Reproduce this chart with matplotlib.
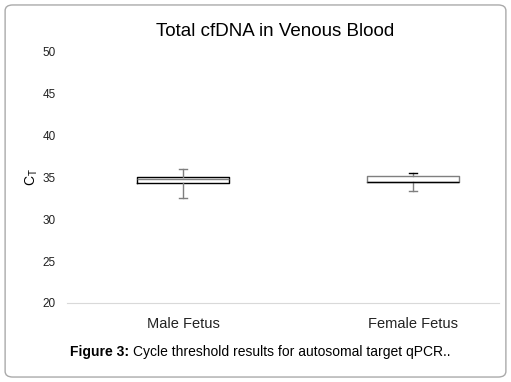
import matplotlib
matplotlib.use('Agg')
import matplotlib.pyplot as plt
from matplotlib.patches import FancyBboxPatch

plt.rcParams['font.family'] = ['Liberation Sans', 'DejaVu Sans']

# values (cycle threshold)
categories = ['Male Fetus', 'Female Fetus']
whis_lo = [32.6, 33.4]
q1 = [34.3, 34.45]
medians = [34.8, 34.45]
q3 = [35.0, 35.2]
whis_hi = [36.0, 35.5]
y_ticks = [20, 25, 30, 35, 40, 45, 50]

fig = plt.figure(figsize=(5.11, 3.82), dpi=100)
ax = fig.add_axes([0.131, 0.207, 0.846, 0.657])

stats = []
for i in range(len(categories)):
    stats.append({'whislo': whis_lo[i], 'q1': q1[i], 'med': medians[i],
                  'q3': q3[i], 'whishi': whis_hi[i], 'label': categories[i]})

bp = ax.bxp(stats, positions=[0, 1], widths=0.4, capwidths=0.035, showfliers=False,
            boxprops=dict(color='black', linewidth=1.0),
            medianprops=dict(color='#7f7f7f', linewidth=1.0),
            whiskerprops=dict(color='#7f7f7f', linewidth=1.0),
            capprops=dict(color='#7f7f7f', linewidth=1.0))
# female box looks grey with a black median line on its lower edge
bp['boxes'][1].set_color('#7f7f7f')
bp['medians'][1].set_color('black')
bp['caps'][3].set_color('black')

ax.set_xlim(-0.504, 1.374)
ax.set_ylim(20, 50)
ax.set_yticks(y_ticks)
ax.tick_params(axis='both', length=0, labelsize=8.5, colors='#222222')
ax.tick_params(axis='y', pad=8)
ax.tick_params(axis='x', labelsize=10.5, pad=10)
for s in ['top', 'right', 'left']:
    ax.spines[s].set_visible(False)
ax.spines['bottom'].set_color('#d9d9d9')
ax.set_ylabel(r'C$_\mathregular{T}$', fontsize=10, labelpad=2)

fig.text(0.538, 0.918, 'Total cfDNA in Venous Blood', ha='center', va='center', fontsize=13.5)

t1 = fig.text(0.137, 0.078, 'Figure 3:', fontweight='bold', fontsize=10, va='center')
fig.add_artist(plt.Annotation('Cycle threshold results for autosomal target qPCR..',
                              xy=(1, 0.5), xycoords=t1, xytext=(3, 0),
                              textcoords='offset points', va='center', fontsize=10))

border = FancyBboxPatch((0.010, 0.013), 0.980, 0.974, boxstyle='round,pad=0,rounding_size=0.015',
                        transform=fig.transFigure, facecolor='none', edgecolor='#aaaaaa',
                        linewidth=1.0)
fig.patches.append(border)

plt.savefig('out.png', dpi=100)
